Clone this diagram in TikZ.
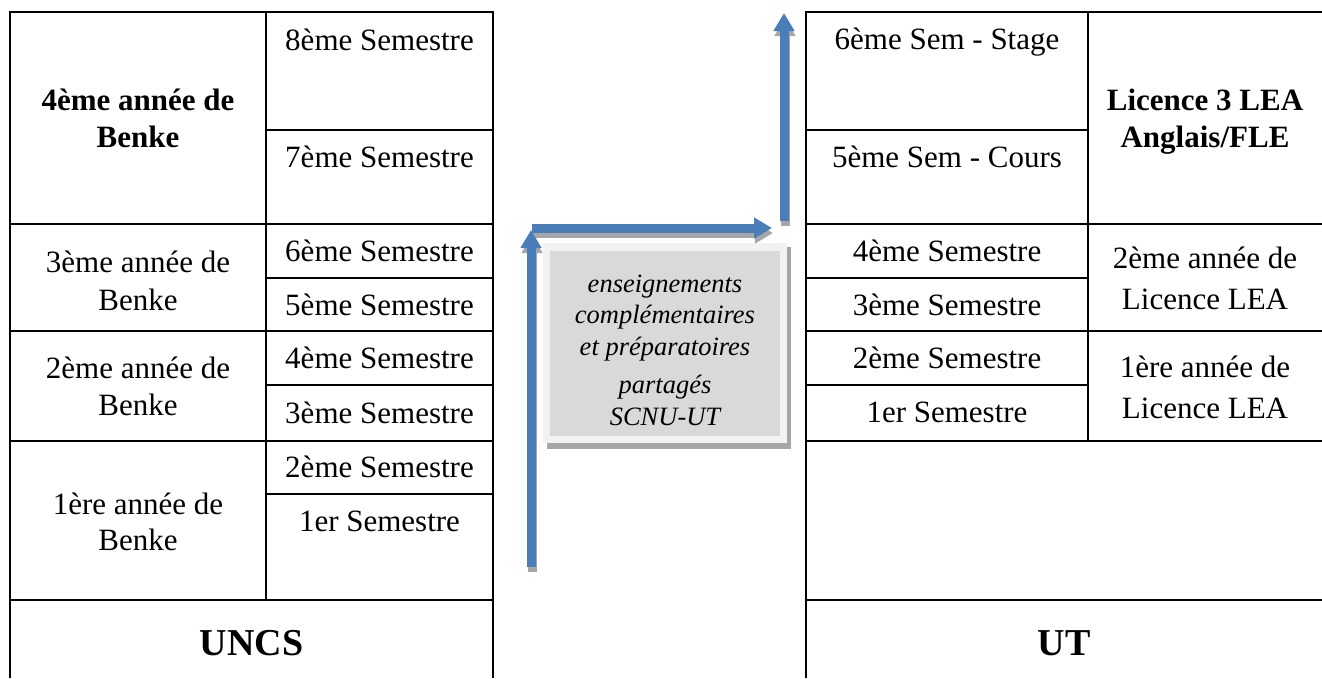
\documentclass[tikz,border=0pt]{standalone}
\usepackage{fontspec}
\setmainfont{Liberation Serif}
\usetikzlibrary{arrows.meta}
\definecolor{arrowblue}{HTML}{4A7EBB}
\definecolor{shadowgray}{HTML}{A6A6A6}
\definecolor{boxouter}{HTML}{F2F2F2}
\definecolor{boxinner}{HTML}{D9D9D9}
\begin{document}
\begin{tikzpicture}[x=1pt,y=-1pt,
  grid/.style={line width=2.2pt, black},
  txt/.style={inner sep=0pt, anchor=base, align=center, font=\fontsize{31}{35.6}\selectfont},
  btxt/.style={inner sep=0pt, anchor=base, align=center, font=\fontsize{31}{37}\selectfont\bfseries},
  big/.style={inner sep=0pt, anchor=base, font=\fontsize{38}{44}\selectfont\bfseries},
  itxt/.style={inner sep=0pt, anchor=base, font=\fontsize{26.5}{31}\selectfont\itshape},
  flow/.style={line width=9pt, arrowblue, -{Triangle[length=18pt,width=20pt]}},
  flowshadow/.style={line width=9pt, shadowgray, -{Triangle[length=18pt,width=20pt]}, transform canvas={shift={(1pt,-5pt)}}}
]
\useasboundingbox (0,0) rectangle (1322,678);

% ---------- left table ----------
\draw[grid] (10,678) -- (10,12) -- (493,12) -- (493,678);
\draw[grid] (266,12) -- (266,600);
\foreach \y in {224,331,441,600} \draw[grid] (10,\y) -- (493,\y);
\foreach \y in {130,278,385,494} \draw[grid] (266,\y) -- (493,\y);

\node[btxt] (y4a) at (138,110) {4ème année de};
\node[btxt] (y4b) at (138,147) {Benke};
\node[txt] (s8) at (379.5,50) {8ème Semestre};
\node[txt] (s7) at (379.5,167) {7ème Semestre};
\node[txt] (y3a) at (138,272) {3ème année de};
\node[txt] (y3b) at (138,310) {Benke};
\node[txt] (s6) at (379.5,261) {6ème Semestre};
\node[txt] (s5) at (379.5,315) {5ème Semestre};
\node[txt] (y2a) at (138,378) {2ème année de};
\node[txt] (y2b) at (138,415) {Benke};
\node[txt] (s4) at (379.5,368) {4ème Semestre};
\node[txt] (s3) at (379.5,423) {3ème Semestre};
\node[txt] (y1a) at (138,514) {1ère année de};
\node[txt] (y1b) at (138,550) {Benke};
\node[txt] (s2) at (379.5,477) {2ème Semestre};
\node[txt] (s1) at (379.5,531) {1er Semestre};
\node[big] (uncs) at (251.5,655) {UNCS};

% ---------- right table ----------
\draw[grid] (806,678) -- (806,12) -- (1322,12);
\draw[grid] (1088,12) -- (1088,441);
\foreach \y in {224,331,441,600} \draw[grid] (806,\y) -- (1322,\y);
\foreach \y in {130,278,385} \draw[grid] (806,\y) -- (1088,\y);

\node[txt] (r6) at (947,49) {6ème Sem - Stage};
\node[txt] (r5) at (947,167) {5ème Sem - Cours};
\node[btxt] (l3a) at (1205,110) {Licence 3 LEA};
\node[btxt] (l3b) at (1205,147) {Anglais/FLE};
\node[txt] (r4) at (947,261) {4ème Semestre};
\node[txt] (r3) at (947,315) {3ème Semestre};
\node[txt] (r2) at (947,368) {2ème Semestre};
\node[txt] (r1) at (947,422) {1er Semestre};
\node[txt] (l2a) at (1205,268) {2ème année de};
\node[txt] (l2b) at (1205,309) {Licence LEA};
\node[txt] (l1a) at (1205,377) {1ère année de};
\node[txt] (l1b) at (1205,418) {Licence LEA};
\node[big] (ut) at (1064,655) {UT};

% ---------- central box ----------
\fill[shadowgray] (547,247) rectangle (791,449);
\fill[boxouter] (543,243) rectangle (787,443);
\fill[boxinner] (550,251) rectangle (780,436);
\node[itxt] (c1) at (665,292) {enseignements};
\node[itxt] (c2) at (665,323) {complémentaires};
\node[itxt] (c3) at (665,355) {et préparatoires};
\node[itxt] (c4) at (665,393) {partagés};
\node[itxt] (c5) at (665,425) {SCNU-UT};

% ---------- arrows ----------
\coordinate (a1s) at (531,567);
\coordinate (a1e) at (531,230);
\coordinate (a2s) at (532,228);
\coordinate (a2e) at (772,228);
\coordinate (a3s) at (784,221);
\coordinate (a3e) at (784,13);
\draw[flowshadow] (a1s) -- (a1e);
\draw[flowshadow] (a2s) -- (a2e);
\draw[flowshadow] (a3s) -- (a3e);
\draw[flow] (a1s) -- (a1e);
\draw[flow] (a2s) -- (a2e);
\draw[flow] (a3s) -- (a3e);
\end{tikzpicture}
\end{document}
